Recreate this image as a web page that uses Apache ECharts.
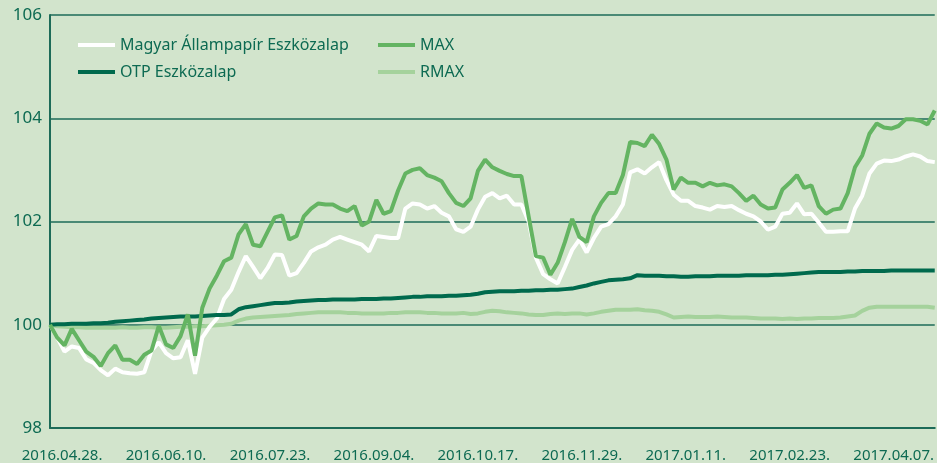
<!DOCTYPE html>
<html>
<head>
<meta charset="utf-8">
<script src="https://cdn.jsdelivr.net/npm/echarts@6/dist/echarts.min.js"></script>
<style>
  html, body { margin: 0; padding: 0; background: #d2e4cc; }
  #chart { width: 937px; height: 463px; }
</style>
</head>
<body>
<div id="chart"></div>
<script>
// napi adatok 3 naponként, az első nap 2016.04.23.
const stepDays = 3
const startDate = new Date(2016, 3, 23)

// tengely feliratok
const tickLabels = ['2016.04.28.', '2016.06.10.', '2016.07.23.', '2016.09.04.', '2016.10.17.',
  '2016.11.29.', '2017.01.11.', '2017.02.23.', '2017.04.07.']
const yTicks = [98, 100, 102, 104, 106]

const seriesNames = ['Magyar Állampapír Eszközalap', 'OTP Eszközalap', 'MAX', 'RMAX']

const mapData = [
  100.0, 99.75, 99.48, 99.58, 99.55, 99.33, 99.26, 99.12, 99.02, 99.15,
  99.08, 99.06, 99.05, 99.08, 99.5, 99.66, 99.45, 99.35, 99.37, 99.7,
  99.05, 99.75, 99.96, 100.12, 100.5, 100.68, 101.02, 101.33, 101.12, 100.9,
  101.1, 101.36, 101.35, 100.95, 101.0, 101.2, 101.42, 101.5, 101.55, 101.65,
  101.7, 101.65, 101.6, 101.55, 101.42, 101.72, 101.7, 101.68, 101.68, 102.25,
  102.35, 102.33, 102.25, 102.3, 102.17, 102.1, 101.85, 101.8, 101.9, 102.23,
  102.48, 102.55, 102.45, 102.5, 102.33, 102.33, 102.0, 101.3, 100.98, 100.88,
  100.8, 101.12, 101.45, 101.65, 101.4, 101.68, 101.9, 101.95, 102.1, 102.33,
  102.95, 103.01, 102.93, 103.05, 103.15, 102.8, 102.52, 102.4, 102.4, 102.3,
  102.27, 102.23, 102.3, 102.28, 102.3, 102.22, 102.15, 102.1, 102.0, 101.84,
  101.9, 102.15, 102.17, 102.35, 102.14, 102.15, 101.98, 101.8, 101.8, 101.81,
  101.81, 102.25, 102.5, 102.93, 103.12, 103.18, 103.17, 103.2, 103.26, 103.3,
  103.26, 103.17, 103.15
]

const otpData = [
  100.0, 100.01, 100.01, 100.02, 100.02, 100.02, 100.03, 100.03, 100.04, 100.06,
  100.07, 100.08, 100.09, 100.1, 100.12, 100.13, 100.14, 100.15, 100.16, 100.16,
  100.16, 100.17, 100.18, 100.19, 100.19, 100.2, 100.3, 100.34, 100.36, 100.38,
  100.4, 100.42, 100.42, 100.43, 100.45, 100.46, 100.47, 100.48, 100.48, 100.49,
  100.49, 100.49, 100.49, 100.5, 100.5, 100.5, 100.51, 100.51, 100.52, 100.53,
  100.54, 100.54, 100.55, 100.55, 100.55, 100.56, 100.56, 100.57, 100.58, 100.6,
  100.63, 100.64, 100.65, 100.65, 100.65, 100.66, 100.66, 100.67, 100.67, 100.68,
  100.68, 100.69, 100.7, 100.73, 100.76, 100.8, 100.83, 100.86, 100.87, 100.88,
  100.9, 100.96, 100.95, 100.95, 100.95, 100.94, 100.94, 100.93, 100.93, 100.94,
  100.94, 100.94, 100.95, 100.95, 100.95, 100.95, 100.96, 100.96, 100.96, 100.96,
  100.97, 100.97, 100.98, 100.99, 101.0, 101.01, 101.02, 101.02, 101.02, 101.02,
  101.03, 101.03, 101.04, 101.04, 101.04, 101.04, 101.05, 101.05, 101.05, 101.05,
  101.05, 101.05, 101.05
]

const maxData = [
  100.0, 99.75, 99.6, 99.92, 99.7, 99.48, 99.38, 99.2, 99.45, 99.6,
  99.32, 99.32, 99.24, 99.42, 99.5, 99.98, 99.62, 99.55, 99.78, 100.2,
  99.4, 100.33, 100.7, 100.95, 101.23, 101.3, 101.75, 101.95, 101.55, 101.52,
  101.8, 102.08, 102.12, 101.65, 101.72, 102.1, 102.25, 102.35, 102.33, 102.33,
  102.25, 102.2, 102.3, 101.92, 102.0, 102.42, 102.15, 102.2, 102.6, 102.93,
  103.0, 103.03, 102.9, 102.85, 102.78, 102.55, 102.36, 102.3, 102.45, 102.98,
  103.2, 103.05, 102.98, 102.92, 102.88, 102.88, 102.1, 101.33, 101.3, 100.97,
  101.2, 101.6, 102.05, 101.7, 101.6, 102.1, 102.36, 102.55, 102.55, 102.9,
  103.54, 103.52, 103.46, 103.68, 103.5, 103.2, 102.62, 102.85, 102.75, 102.75,
  102.68, 102.75, 102.7, 102.72, 102.68, 102.55, 102.4, 102.5, 102.33, 102.25,
  102.27, 102.62, 102.75, 102.9, 102.65, 102.7, 102.3, 102.15, 102.23, 102.25,
  102.55, 103.05, 103.28, 103.7, 103.9, 103.82, 103.8, 103.85, 103.98, 103.98,
  103.95, 103.88, 104.15
]

const rmaxData = [
  100.0, 99.97, 99.96, 99.95, 99.95, 99.94, 99.94, 99.94, 99.94, 99.94,
  99.95, 99.94, 99.94, 99.95, 99.95, 99.94, 99.94, 99.95, 99.96, 99.96,
  99.97, 99.97, 99.98, 99.99, 100.0, 100.02, 100.08, 100.12, 100.14, 100.15,
  100.16, 100.17, 100.18, 100.19, 100.21, 100.22, 100.23, 100.24, 100.24, 100.24,
  100.24, 100.23, 100.23, 100.22, 100.22, 100.22, 100.22, 100.23, 100.23, 100.24,
  100.24, 100.24, 100.23, 100.23, 100.22, 100.22, 100.22, 100.23, 100.21, 100.22,
  100.25, 100.27, 100.26, 100.24, 100.23, 100.22, 100.2, 100.19, 100.19, 100.21,
  100.22, 100.21, 100.22, 100.22, 100.2, 100.22, 100.25, 100.27, 100.29, 100.29,
  100.29, 100.3, 100.28, 100.27, 100.25, 100.2, 100.14, 100.15, 100.16, 100.15,
  100.15, 100.15, 100.16, 100.15, 100.14, 100.14, 100.14, 100.13, 100.12, 100.12,
  100.12, 100.11, 100.12, 100.11, 100.12, 100.12, 100.13, 100.13, 100.13, 100.14,
  100.16, 100.18, 100.27, 100.33, 100.35, 100.35, 100.35, 100.35, 100.35, 100.35,
  100.35, 100.35, 100.33
]

// a feliratok napja a kezdőnaptól
function dayOf(label) {
  const p = label.split('.')
  const d = new Date(+p[0], +p[1] - 1, +p[2])
  return Math.round((d - startDate) / 86400000)
}
const tickDays = tickLabels.map(dayOf)

function toPairs(arr) {
  return arr.map((v, i) => [i * stepDays, v])
}

const textColor = '#0d6a52'
const gridColor = '#1d6b58'

const legendBase = {
  orient: 'vertical',
  top: 37,
  padding: 0,
  itemWidth: 37,
  itemHeight: 4,
  itemGap: 11,
  icon: 'rect',
  textStyle: { color: textColor, fontSize: 16, fontFamily: 'Noto Sans' },
}

let myChart = echarts.init(document.getElementById('chart'))
myChart.setOption({
  animation: false,
  backgroundColor: '#d2e4cc',
  grid: {
    left: 50,
    top: 15,
    right: 0,
    bottom: 35,
  },
  legend: [
    Object.assign({}, legendBase, { data: [seriesNames[0], seriesNames[1]], left: 78 }),
    Object.assign({}, legendBase, { data: [seriesNames[2], seriesNames[3]], left: 378 }),
  ],
  xAxis: {
    type: 'value',
    min: 0,
    max: 366,
    axisLine: { show: true, lineStyle: { color: gridColor, width: 2 } },
    axisTick: { show: false },
    splitLine: { show: false },
    axisLabel: {
      customValues: tickDays,
      margin: 20,
      color: textColor,
      fontSize: 15,
      fontFamily: 'Noto Sans',
      formatter: function (val) {
        const i = tickDays.indexOf(val)
        return i >= 0 ? tickLabels[i] : ''
      },
    },
  },
  yAxis: {
    type: 'value',
    min: yTicks[0],
    max: yTicks[yTicks.length - 1],
    interval: 2,
    axisLine: { show: true, lineStyle: { color: gridColor, width: 2 } },
    axisTick: { show: false },
    splitLine: { show: true, lineStyle: { color: gridColor, width: 1.5 } },
    axisLabel: {
      margin: 8,
      color: textColor,
      fontSize: 17,
      fontFamily: 'Noto Sans',
    },
  },
  series: [
    {
      name: seriesNames[3],
      type: 'line',
      data: toPairs(rmaxData),
      showSymbol: false,
      color: '#a5d29c',
      lineStyle: { width: 4, color: '#a5d29c' },
    },
    {
      name: seriesNames[0],
      type: 'line',
      data: toPairs(mapData),
      showSymbol: false,
      color: '#ffffff',
      lineStyle: { width: 4, color: '#ffffff' },
    },
    {
      name: seriesNames[1],
      type: 'line',
      data: toPairs(otpData),
      showSymbol: false,
      color: '#006a4d',
      lineStyle: { width: 4, color: '#006a4d' },
    },
    {
      name: seriesNames[2],
      type: 'line',
      data: toPairs(maxData),
      showSymbol: false,
      color: '#64b462',
      lineStyle: { width: 4, color: '#64b462' },
    },
  ],
})
</script>
</body>
</html>
